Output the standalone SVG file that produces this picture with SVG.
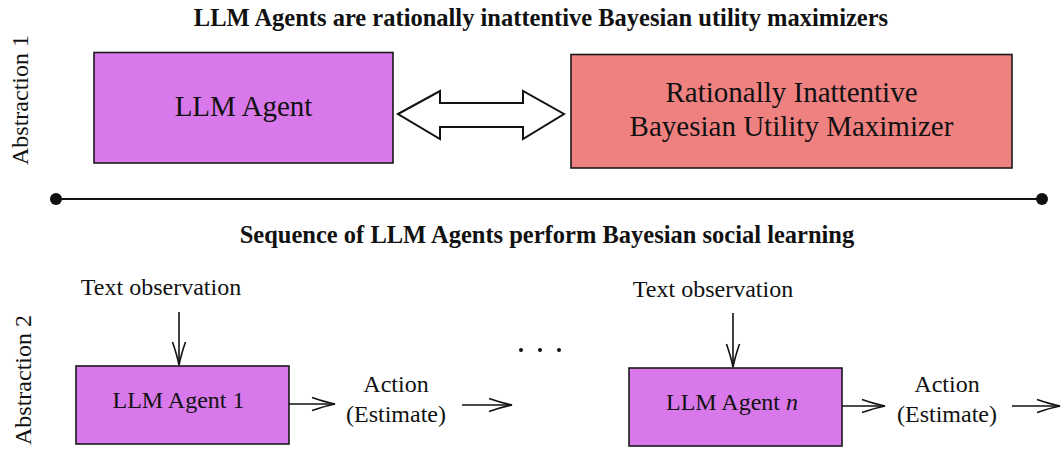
<svg xmlns="http://www.w3.org/2000/svg" width="1062" height="450" viewBox="0 0 1062 450">
<defs>
<style>
text{font-family:"Liberation Serif","Times New Roman",serif;fill:#111;}
.title{font-weight:bold;font-size:24.5px;text-anchor:middle;}
.big{font-size:29px;text-anchor:middle;}
.lbl{font-size:24px;text-anchor:middle;}
.agent{fill:#D878EA;stroke:#1a1a1a;stroke-width:1.6;}
.bum{fill:#F08181;stroke:#1a1a1a;stroke-width:1.6;}
.conn{stroke:#111;stroke-width:1.6;fill:none;}
</style>
<marker id="to" markerUnits="userSpaceOnUse" markerWidth="26" markerHeight="16" viewBox="0 0 26 16" refX="24" refY="8" orient="auto">
<path d="M1,1.5 Q14,6 24,8 Q14,10 1,14.5" fill="none" stroke="#111" stroke-width="1.6"/>
</marker>
</defs>
<text class="title" x="541" y="25.5">LLM Agents are rationally inattentive Bayesian utility maximizers</text>
<text class="lbl" transform="translate(28,100) rotate(-90)">Abstraction 1</text>
<g id="llm-agent">
<rect class="agent" x="94" y="52.5" width="299" height="110.5"/>
<text class="big" x="243.5" y="116">LLM Agent</text>
</g>
<g id="bum">
<rect class="bum" x="571" y="54.5" width="441" height="113.5"/>
<text class="big" x="791.5" y="101.5">Rationally Inattentive</text>
<text class="big" x="791.5" y="135.5">Bayesian Utility Maximizer</text>
</g>
<g id="divider">
<line x1="56" y1="199" x2="1042" y2="199" stroke="#111" stroke-width="2"/>
<circle cx="56" cy="199" r="6" fill="#111"/>
<circle cx="1042" cy="199" r="6" fill="#111"/>
</g>
<text class="title" x="547" y="243">Sequence of LLM Agents perform Bayesian social learning</text>
<text class="lbl" transform="translate(31,380) rotate(-90)">Abstraction 2</text>
<g id="obs1"><text class="lbl" x="161" y="295">Text observation</text></g>
<g id="agent1">
<rect class="agent" x="76" y="366" width="213" height="78"/>
<text class="lbl" x="178.5" y="408">LLM Agent 1</text>
</g>
<g id="action1">
<text class="lbl" x="396" y="392">Action</text>
<text class="lbl" x="396" y="422">(Estimate)</text>
</g>
<g id="dots">
<circle cx="521" cy="350" r="2" fill="#111"/>
<circle cx="540" cy="350" r="2" fill="#111"/>
<circle cx="559" cy="350" r="2" fill="#111"/>
</g>
<g id="obsn"><text class="lbl" x="713" y="297">Text observation</text></g>
<g id="agentn">
<rect class="agent" x="629" y="368" width="213" height="78"/>
<text class="lbl" x="732" y="410">LLM Agent <tspan font-style="italic">n</tspan></text>
</g>
<g id="actionn">
<text class="lbl" x="947" y="392">Action</text>
<text class="lbl" x="947" y="422">(Estimate)</text>
</g>
<g id="connectors">
<polygon points="398,114 440,91 440,103 523,103 523,91 564,114 523,139 523,127 440,127 440,139" fill="#fff" stroke="#111" stroke-width="2" stroke-linejoin="miter"/>
<line class="conn" x1="179" y1="312" x2="179" y2="365" marker-end="url(#to)"/>
<line class="conn" x1="289" y1="404" x2="335" y2="404" marker-end="url(#to)"/>
<line class="conn" x1="462" y1="405" x2="512" y2="405" marker-end="url(#to)"/>
<line class="conn" x1="733" y1="313" x2="733" y2="367" marker-end="url(#to)"/>
<line class="conn" x1="842" y1="406" x2="885" y2="406" marker-end="url(#to)"/>
<line class="conn" x1="1012" y1="406" x2="1060" y2="406" marker-end="url(#to)"/>
</g>
</svg>
